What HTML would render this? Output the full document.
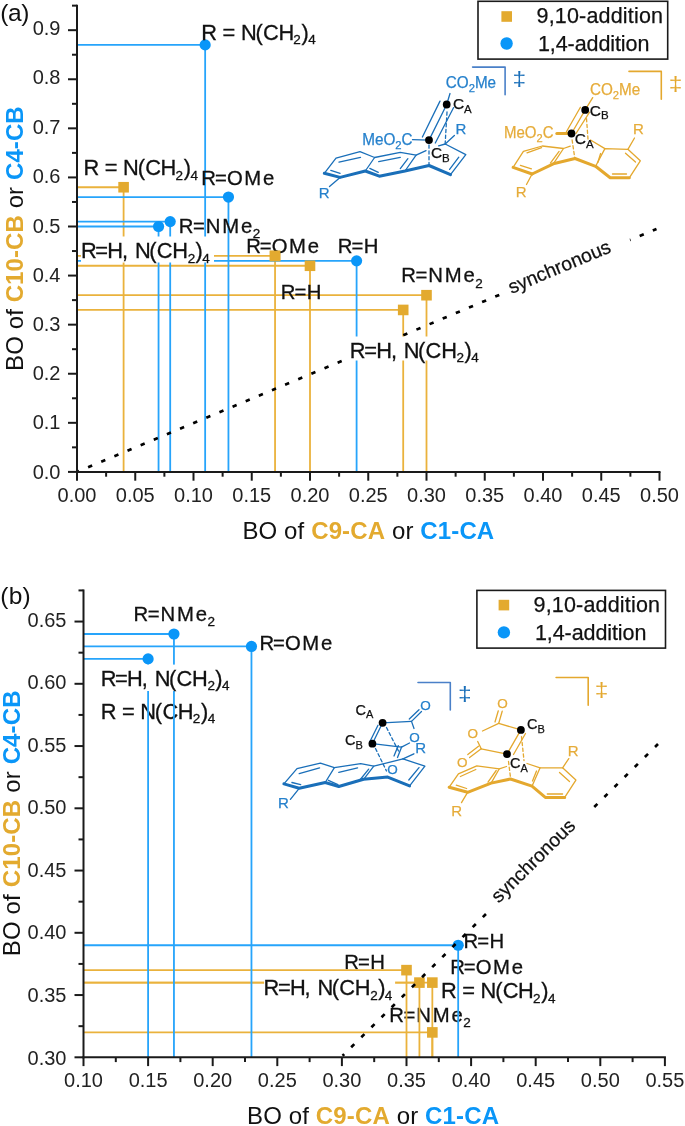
<!DOCTYPE html>
<html><head><meta charset="utf-8"><style>
html,body{margin:0;padding:0;background:#fff;}
svg{display:block;}
text{font-family:"Liberation Sans", Arial, sans-serif;}
</style></head><body>
<svg width="685" height="1126" viewBox="0 0 685 1126">
<rect width="685" height="1126" fill="#fff"/>
<g id="plotA">
<line x1="77.00" y1="187.24" x2="123.60" y2="187.24" stroke="#EAB23C" stroke-width="1.8" />
<line x1="123.60" y1="187.24" x2="123.60" y2="471.90" stroke="#EAB23C" stroke-width="1.8" />
<line x1="77.00" y1="255.95" x2="275.05" y2="255.95" stroke="#EAB23C" stroke-width="1.8" />
<line x1="275.05" y1="255.95" x2="275.05" y2="471.90" stroke="#EAB23C" stroke-width="1.8" />
<line x1="77.00" y1="265.76" x2="310.00" y2="265.76" stroke="#EAB23C" stroke-width="1.8" />
<line x1="310.00" y1="265.76" x2="310.00" y2="471.90" stroke="#EAB23C" stroke-width="1.8" />
<line x1="77.00" y1="295.21" x2="426.50" y2="295.21" stroke="#EAB23C" stroke-width="1.8" />
<line x1="426.50" y1="295.21" x2="426.50" y2="471.90" stroke="#EAB23C" stroke-width="1.8" />
<line x1="77.00" y1="309.94" x2="403.20" y2="309.94" stroke="#EAB23C" stroke-width="1.8" />
<line x1="403.20" y1="309.94" x2="403.20" y2="471.90" stroke="#EAB23C" stroke-width="1.8" />
<line x1="77.00" y1="44.90" x2="205.15" y2="44.90" stroke="#26A4FB" stroke-width="1.8" />
<line x1="205.15" y1="44.90" x2="205.15" y2="471.90" stroke="#26A4FB" stroke-width="1.8" />
<line x1="77.00" y1="197.05" x2="228.45" y2="197.05" stroke="#26A4FB" stroke-width="1.8" />
<line x1="228.45" y1="197.05" x2="228.45" y2="471.90" stroke="#26A4FB" stroke-width="1.8" />
<line x1="77.00" y1="221.59" x2="170.20" y2="221.59" stroke="#26A4FB" stroke-width="1.8" />
<line x1="170.20" y1="221.59" x2="170.20" y2="471.90" stroke="#26A4FB" stroke-width="1.8" />
<line x1="77.00" y1="226.50" x2="158.55" y2="226.50" stroke="#26A4FB" stroke-width="1.8" />
<line x1="158.55" y1="226.50" x2="158.55" y2="471.90" stroke="#26A4FB" stroke-width="1.8" />
<line x1="77.00" y1="260.86" x2="356.60" y2="260.86" stroke="#26A4FB" stroke-width="1.8" />
<line x1="356.60" y1="260.86" x2="356.60" y2="471.90" stroke="#26A4FB" stroke-width="1.8" />
<line x1="77" y1="471.9" x2="656.5" y2="229" stroke="#000" stroke-width="2.7" stroke-dasharray="4.4 9.84" stroke-dashoffset="2.2"/>
<line x1="502" y1="293.5" x2="630" y2="239.8" stroke="#fff" stroke-width="10"/>
<rect x="118.30" y="181.94" width="10.6" height="10.6" fill="#E3AA2F"/>
<rect x="269.75" y="250.65" width="10.6" height="10.6" fill="#E3AA2F"/>
<rect x="304.70" y="260.46" width="10.6" height="10.6" fill="#E3AA2F"/>
<rect x="421.20" y="289.91" width="10.6" height="10.6" fill="#E3AA2F"/>
<rect x="397.90" y="304.64" width="10.6" height="10.6" fill="#E3AA2F"/>
<circle cx="205.15" cy="44.90" r="5.6" fill="#0A96F8"/>
<circle cx="228.45" cy="197.05" r="5.6" fill="#0A96F8"/>
<circle cx="170.20" cy="221.59" r="5.6" fill="#0A96F8"/>
<circle cx="158.55" cy="226.50" r="5.6" fill="#0A96F8"/>
<circle cx="356.60" cy="260.86" r="5.6" fill="#0A96F8"/>
<rect x="81" y="236.5" width="133" height="26.0" fill="#fff"/>
<rect x="350" y="336.5" width="130" height="24.0" fill="#fff"/>
<line x1="77.00" y1="471.90" x2="77.00" y2="480.70" stroke="#1a1a1a" stroke-width="2" />
<line x1="135.25" y1="471.90" x2="135.25" y2="480.70" stroke="#1a1a1a" stroke-width="2" />
<line x1="193.50" y1="471.90" x2="193.50" y2="480.70" stroke="#1a1a1a" stroke-width="2" />
<line x1="251.75" y1="471.90" x2="251.75" y2="480.70" stroke="#1a1a1a" stroke-width="2" />
<line x1="310.00" y1="471.90" x2="310.00" y2="480.70" stroke="#1a1a1a" stroke-width="2" />
<line x1="368.25" y1="471.90" x2="368.25" y2="480.70" stroke="#1a1a1a" stroke-width="2" />
<line x1="426.50" y1="471.90" x2="426.50" y2="480.70" stroke="#1a1a1a" stroke-width="2" />
<line x1="484.75" y1="471.90" x2="484.75" y2="480.70" stroke="#1a1a1a" stroke-width="2" />
<line x1="543.00" y1="471.90" x2="543.00" y2="480.70" stroke="#1a1a1a" stroke-width="2" />
<line x1="601.25" y1="471.90" x2="601.25" y2="480.70" stroke="#1a1a1a" stroke-width="2" />
<line x1="659.50" y1="471.90" x2="659.50" y2="480.70" stroke="#1a1a1a" stroke-width="2" />
<line x1="106.12" y1="471.90" x2="106.12" y2="476.70" stroke="#1a1a1a" stroke-width="2" />
<line x1="164.38" y1="471.90" x2="164.38" y2="476.70" stroke="#1a1a1a" stroke-width="2" />
<line x1="222.62" y1="471.90" x2="222.62" y2="476.70" stroke="#1a1a1a" stroke-width="2" />
<line x1="280.88" y1="471.90" x2="280.88" y2="476.70" stroke="#1a1a1a" stroke-width="2" />
<line x1="339.12" y1="471.90" x2="339.12" y2="476.70" stroke="#1a1a1a" stroke-width="2" />
<line x1="397.38" y1="471.90" x2="397.38" y2="476.70" stroke="#1a1a1a" stroke-width="2" />
<line x1="455.62" y1="471.90" x2="455.62" y2="476.70" stroke="#1a1a1a" stroke-width="2" />
<line x1="513.88" y1="471.90" x2="513.88" y2="476.70" stroke="#1a1a1a" stroke-width="2" />
<line x1="572.12" y1="471.90" x2="572.12" y2="476.70" stroke="#1a1a1a" stroke-width="2" />
<line x1="630.38" y1="471.90" x2="630.38" y2="476.70" stroke="#1a1a1a" stroke-width="2" />
<line x1="68.00" y1="471.90" x2="77.00" y2="471.90" stroke="#1a1a1a" stroke-width="2" />
<line x1="68.00" y1="422.82" x2="77.00" y2="422.82" stroke="#1a1a1a" stroke-width="2" />
<line x1="68.00" y1="373.74" x2="77.00" y2="373.74" stroke="#1a1a1a" stroke-width="2" />
<line x1="68.00" y1="324.66" x2="77.00" y2="324.66" stroke="#1a1a1a" stroke-width="2" />
<line x1="68.00" y1="275.58" x2="77.00" y2="275.58" stroke="#1a1a1a" stroke-width="2" />
<line x1="68.00" y1="226.50" x2="77.00" y2="226.50" stroke="#1a1a1a" stroke-width="2" />
<line x1="68.00" y1="177.42" x2="77.00" y2="177.42" stroke="#1a1a1a" stroke-width="2" />
<line x1="68.00" y1="128.34" x2="77.00" y2="128.34" stroke="#1a1a1a" stroke-width="2" />
<line x1="68.00" y1="79.26" x2="77.00" y2="79.26" stroke="#1a1a1a" stroke-width="2" />
<line x1="68.00" y1="30.18" x2="77.00" y2="30.18" stroke="#1a1a1a" stroke-width="2" />
<line x1="72.00" y1="447.36" x2="77.00" y2="447.36" stroke="#1a1a1a" stroke-width="2" />
<line x1="72.00" y1="398.28" x2="77.00" y2="398.28" stroke="#1a1a1a" stroke-width="2" />
<line x1="72.00" y1="349.20" x2="77.00" y2="349.20" stroke="#1a1a1a" stroke-width="2" />
<line x1="72.00" y1="300.12" x2="77.00" y2="300.12" stroke="#1a1a1a" stroke-width="2" />
<line x1="72.00" y1="251.04" x2="77.00" y2="251.04" stroke="#1a1a1a" stroke-width="2" />
<line x1="72.00" y1="201.96" x2="77.00" y2="201.96" stroke="#1a1a1a" stroke-width="2" />
<line x1="72.00" y1="152.88" x2="77.00" y2="152.88" stroke="#1a1a1a" stroke-width="2" />
<line x1="72.00" y1="103.80" x2="77.00" y2="103.80" stroke="#1a1a1a" stroke-width="2" />
<line x1="72.00" y1="54.72" x2="77.00" y2="54.72" stroke="#1a1a1a" stroke-width="2" />
<line x1="72.00" y1="5.64" x2="77.00" y2="5.64" stroke="#1a1a1a" stroke-width="2" />
<line x1="77.00" y1="472.90" x2="77.00" y2="4.64" stroke="#1a1a1a" stroke-width="2" />
<line x1="76.00" y1="471.90" x2="660.50" y2="471.90" stroke="#1a1a1a" stroke-width="2" />
<text x="77.00" y="501.60" font-size="20" fill="#222" text-anchor="middle">0.00</text>
<text x="135.25" y="501.60" font-size="20" fill="#222" text-anchor="middle">0.05</text>
<text x="193.50" y="501.60" font-size="20" fill="#222" text-anchor="middle">0.10</text>
<text x="251.75" y="501.60" font-size="20" fill="#222" text-anchor="middle">0.15</text>
<text x="310.00" y="501.60" font-size="20" fill="#222" text-anchor="middle">0.20</text>
<text x="368.25" y="501.60" font-size="20" fill="#222" text-anchor="middle">0.25</text>
<text x="426.50" y="501.60" font-size="20" fill="#222" text-anchor="middle">0.30</text>
<text x="484.75" y="501.60" font-size="20" fill="#222" text-anchor="middle">0.35</text>
<text x="543.00" y="501.60" font-size="20" fill="#222" text-anchor="middle">0.40</text>
<text x="601.25" y="501.60" font-size="20" fill="#222" text-anchor="middle">0.45</text>
<text x="659.50" y="501.60" font-size="20" fill="#222" text-anchor="middle">0.50</text>
<text x="60.50" y="478.66" font-size="20" fill="#222" text-anchor="end">0.0</text>
<text x="60.50" y="429.18" font-size="20" fill="#222" text-anchor="end">0.1</text>
<text x="60.50" y="380.00" font-size="20" fill="#222" text-anchor="end">0.2</text>
<text x="60.50" y="331.42" font-size="20" fill="#222" text-anchor="end">0.3</text>
<text x="60.50" y="282.34" font-size="20" fill="#222" text-anchor="end">0.4</text>
<text x="60.50" y="233.26" font-size="20" fill="#222" text-anchor="end">0.5</text>
<text x="60.50" y="183.08" font-size="20" fill="#222" text-anchor="end">0.6</text>
<text x="60.50" y="133.60" font-size="20" fill="#222" text-anchor="end">0.7</text>
<text x="60.50" y="84.42" font-size="20" fill="#222" text-anchor="end">0.8</text>
<text x="60.50" y="35.14" font-size="20" fill="#222" text-anchor="end">0.9</text>
</g>
<text font-size="21.8" fill="#111" stroke="#111" stroke-width="0.3"><tspan x="201.30" y="39.70">R</tspan><tspan x="222.53" y="39.70">=</tspan><tspan x="240.92" y="39.70">N</tspan><tspan x="255.46" y="39.70">(</tspan><tspan x="262.99" y="39.70">C</tspan><tspan x="278.42" y="39.70">H</tspan><tspan x="293.30" y="44.30" font-size="13.5">2</tspan><tspan x="301.48" y="39.70">)</tspan><tspan x="308.29" y="44.30" font-size="13.5">4</tspan></text>
<text font-size="21.8" fill="#111" stroke="#111" stroke-width="0.3"><tspan x="83.50" y="175.00">R</tspan><tspan x="104.73" y="175.00">=</tspan><tspan x="123.12" y="175.00">N</tspan><tspan x="137.66" y="175.00">(</tspan><tspan x="145.19" y="175.00">C</tspan><tspan x="160.62" y="175.00">H</tspan><tspan x="175.50" y="179.60" font-size="13.5">2</tspan><tspan x="183.68" y="175.00">)</tspan><tspan x="190.49" y="179.60" font-size="13.5">4</tspan></text>
<text font-size="20.3" fill="#111" stroke="#111" stroke-width="0.3"><tspan x="201.37" y="185.30">R</tspan><tspan x="214.97" y="185.30">=</tspan><tspan x="226.91" y="185.30">O</tspan><tspan x="244.20" y="185.30">M</tspan><tspan x="262.88" y="185.30">e</tspan></text>
<text font-size="20.3" fill="#111" stroke="#111" stroke-width="0.3"><tspan x="178.82" y="232.80">R</tspan><tspan x="193.07" y="232.80">=</tspan><tspan x="205.76" y="232.80">N</tspan><tspan x="222.20" y="232.80">M</tspan><tspan x="240.93" y="232.80">e</tspan><tspan x="252.80" y="238.10" font-size="13.5">2</tspan></text>
<text font-size="21.8" fill="#111" stroke="#111" stroke-width="0.3"><tspan x="80.95" y="258.20">R</tspan><tspan x="95.33" y="258.20">=</tspan><tspan x="107.37" y="258.20">H</tspan><tspan x="122.07" y="258.20">,</tspan><tspan x="134.92" y="258.20">N</tspan><tspan x="149.26" y="258.20">(</tspan><tspan x="156.64" y="258.20">C</tspan><tspan x="172.32" y="258.20">H</tspan><tspan x="187.75" y="262.80" font-size="13.5">2</tspan><tspan x="195.58" y="258.20">)</tspan><tspan x="202.29" y="262.80" font-size="13.5">4</tspan></text>
<text font-size="20.3" fill="#111" stroke="#111" stroke-width="0.3"><tspan x="246.27" y="252.90">R</tspan><tspan x="259.87" y="252.90">=</tspan><tspan x="271.81" y="252.90">O</tspan><tspan x="289.10" y="252.90">M</tspan><tspan x="307.78" y="252.90">e</tspan></text>
<text font-size="20.3" fill="#111" stroke="#111" stroke-width="0.3"><tspan x="337.77" y="252.90">R</tspan><tspan x="351.62" y="252.90">=</tspan><tspan x="363.71" y="252.90">H</tspan></text>
<text font-size="20.3" fill="#111" stroke="#111" stroke-width="0.3"><tspan x="280.77" y="298.90">R</tspan><tspan x="294.62" y="298.90">=</tspan><tspan x="306.71" y="298.90">H</tspan></text>
<text font-size="20.3" fill="#111" stroke="#111" stroke-width="0.3"><tspan x="401.27" y="282.30">R</tspan><tspan x="415.52" y="282.30">=</tspan><tspan x="428.21" y="282.30">N</tspan><tspan x="444.65" y="282.30">M</tspan><tspan x="463.38" y="282.30">e</tspan><tspan x="475.25" y="287.60" font-size="13.5">2</tspan></text>
<text font-size="21.8" fill="#111" stroke="#111" stroke-width="0.3"><tspan x="349.80" y="357.60">R</tspan><tspan x="364.18" y="357.60">=</tspan><tspan x="376.22" y="357.60">H</tspan><tspan x="390.92" y="357.60">,</tspan><tspan x="403.77" y="357.60">N</tspan><tspan x="418.11" y="357.60">(</tspan><tspan x="425.49" y="357.60">C</tspan><tspan x="441.17" y="357.60">H</tspan><tspan x="456.60" y="362.20" font-size="13.5">2</tspan><tspan x="464.43" y="357.60">)</tspan><tspan x="471.14" y="362.20" font-size="13.5">4</tspan></text>
<rect x="269.75" y="250.65" width="10.6" height="10.6" fill="#E3AA2F"/>
<text font-size="20.3" fill="#111" stroke="#111" stroke-width="0.3"><tspan x="133.52" y="621.00">R</tspan><tspan x="147.77" y="621.00">=</tspan><tspan x="160.46" y="621.00">N</tspan><tspan x="176.90" y="621.00">M</tspan><tspan x="195.63" y="621.00">e</tspan><tspan x="207.50" y="626.30" font-size="13.5">2</tspan></text>
<text font-size="20.3" fill="#111" stroke="#111" stroke-width="0.3"><tspan x="259.47" y="650.00">R</tspan><tspan x="273.07" y="650.00">=</tspan><tspan x="285.01" y="650.00">O</tspan><tspan x="302.30" y="650.00">M</tspan><tspan x="320.98" y="650.00">e</tspan></text>
<text font-size="21.8" fill="#111" stroke="#111" stroke-width="0.3"><tspan x="100.70" y="718.60">R</tspan><tspan x="121.93" y="718.60">=</tspan><tspan x="140.32" y="718.60">N</tspan><tspan x="154.86" y="718.60">(</tspan><tspan x="162.39" y="718.60">C</tspan><tspan x="177.82" y="718.60">H</tspan><tspan x="192.70" y="723.20" font-size="13.5">2</tspan><tspan x="200.88" y="718.60">)</tspan><tspan x="207.69" y="723.20" font-size="13.5">4</tspan></text>
<text font-size="20.3" fill="#111" stroke="#111" stroke-width="0.3"><tspan x="344.27" y="968.70">R</tspan><tspan x="358.12" y="968.70">=</tspan><tspan x="370.21" y="968.70">H</tspan></text>
<text font-size="20.3" fill="#111" stroke="#111" stroke-width="0.3"><tspan x="463.52" y="947.50">R</tspan><tspan x="477.37" y="947.50">=</tspan><tspan x="489.46" y="947.50">H</tspan></text>
<text font-size="20.3" fill="#111" stroke="#111" stroke-width="0.3"><tspan x="450.27" y="974.20">R</tspan><tspan x="463.87" y="974.20">=</tspan><tspan x="475.81" y="974.20">O</tspan><tspan x="493.10" y="974.20">M</tspan><tspan x="511.78" y="974.20">e</tspan></text>
<text font-size="21.8" fill="#111" stroke="#111" stroke-width="0.3"><tspan x="441.00" y="998.00">R</tspan><tspan x="462.23" y="998.00">=</tspan><tspan x="480.62" y="998.00">N</tspan><tspan x="495.16" y="998.00">(</tspan><tspan x="502.69" y="998.00">C</tspan><tspan x="518.12" y="998.00">H</tspan><tspan x="533.00" y="1002.60" font-size="13.5">2</tspan><tspan x="541.18" y="998.00">)</tspan><tspan x="547.99" y="1002.60" font-size="13.5">4</tspan></text>
<text font-size="20.3" fill="#111" stroke="#111" stroke-width="0.3"><tspan x="389.27" y="1021.50">R</tspan><tspan x="403.52" y="1021.50">=</tspan><tspan x="416.21" y="1021.50">N</tspan><tspan x="432.65" y="1021.50">M</tspan><tspan x="451.38" y="1021.50">e</tspan><tspan x="463.25" y="1026.80" font-size="13.5">2</tspan></text>
<g id="plotB">
<line x1="83.50" y1="970.15" x2="406.50" y2="970.15" stroke="#EAB23C" stroke-width="1.8" />
<line x1="406.50" y1="970.15" x2="406.50" y2="1057.30" stroke="#EAB23C" stroke-width="1.8" />
<line x1="83.50" y1="982.60" x2="419.42" y2="982.60" stroke="#EAB23C" stroke-width="1.8" />
<line x1="419.42" y1="982.60" x2="419.42" y2="1057.30" stroke="#EAB23C" stroke-width="1.8" />
<line x1="83.50" y1="982.60" x2="432.34" y2="982.60" stroke="#EAB23C" stroke-width="1.8" />
<line x1="432.34" y1="982.60" x2="432.34" y2="1057.30" stroke="#EAB23C" stroke-width="1.8" />
<line x1="83.50" y1="1032.40" x2="432.34" y2="1032.40" stroke="#EAB23C" stroke-width="1.8" />
<line x1="432.34" y1="1032.40" x2="432.34" y2="1057.30" stroke="#EAB23C" stroke-width="1.8" />
<line x1="83.50" y1="634.00" x2="173.94" y2="634.00" stroke="#26A4FB" stroke-width="1.8" />
<line x1="173.94" y1="634.00" x2="173.94" y2="1057.30" stroke="#26A4FB" stroke-width="1.8" />
<line x1="83.50" y1="646.45" x2="251.46" y2="646.45" stroke="#26A4FB" stroke-width="1.8" />
<line x1="251.46" y1="646.45" x2="251.46" y2="1057.30" stroke="#26A4FB" stroke-width="1.8" />
<line x1="83.50" y1="658.90" x2="148.10" y2="658.90" stroke="#26A4FB" stroke-width="1.8" />
<line x1="148.10" y1="658.90" x2="148.10" y2="1057.30" stroke="#26A4FB" stroke-width="1.8" />
<line x1="83.50" y1="945.25" x2="458.18" y2="945.25" stroke="#26A4FB" stroke-width="1.8" />
<line x1="458.18" y1="945.25" x2="458.18" y2="1057.30" stroke="#26A4FB" stroke-width="1.8" />
<rect x="401.20" y="964.85" width="10.6" height="10.6" fill="#E3AA2F"/>
<rect x="414.12" y="977.30" width="10.6" height="10.6" fill="#E3AA2F"/>
<rect x="427.04" y="977.30" width="10.6" height="10.6" fill="#E3AA2F"/>
<rect x="427.04" y="1027.10" width="10.6" height="10.6" fill="#E3AA2F"/>
<circle cx="173.94" cy="634.00" r="5.6" fill="#0A96F8"/>
<circle cx="251.46" cy="646.45" r="5.6" fill="#0A96F8"/>
<circle cx="148.10" cy="658.90" r="5.6" fill="#0A96F8"/>
<circle cx="458.18" cy="945.25" r="5.6" fill="#0A96F8"/>
<line x1="342.6" y1="1055.7" x2="658" y2="744" stroke="#000" stroke-width="2.7" stroke-dasharray="4.4 9.84" stroke-dashoffset="2.2"/>
<line x1="489" y1="910" x2="591" y2="809" stroke="#fff" stroke-width="10"/>
<rect x="100" y="664.6" width="132" height="26.399999999999977" fill="#fff"/>
<rect x="264.1" y="976" width="131.0" height="22.5" fill="#fff"/>
<line x1="83.50" y1="1057.30" x2="83.50" y2="1066.10" stroke="#1a1a1a" stroke-width="2" />
<line x1="148.10" y1="1057.30" x2="148.10" y2="1066.10" stroke="#1a1a1a" stroke-width="2" />
<line x1="212.70" y1="1057.30" x2="212.70" y2="1066.10" stroke="#1a1a1a" stroke-width="2" />
<line x1="277.30" y1="1057.30" x2="277.30" y2="1066.10" stroke="#1a1a1a" stroke-width="2" />
<line x1="341.90" y1="1057.30" x2="341.90" y2="1066.10" stroke="#1a1a1a" stroke-width="2" />
<line x1="406.50" y1="1057.30" x2="406.50" y2="1066.10" stroke="#1a1a1a" stroke-width="2" />
<line x1="471.10" y1="1057.30" x2="471.10" y2="1066.10" stroke="#1a1a1a" stroke-width="2" />
<line x1="535.70" y1="1057.30" x2="535.70" y2="1066.10" stroke="#1a1a1a" stroke-width="2" />
<line x1="600.30" y1="1057.30" x2="600.30" y2="1066.10" stroke="#1a1a1a" stroke-width="2" />
<line x1="664.90" y1="1057.30" x2="664.90" y2="1066.10" stroke="#1a1a1a" stroke-width="2" />
<line x1="115.80" y1="1057.30" x2="115.80" y2="1062.10" stroke="#1a1a1a" stroke-width="2" />
<line x1="180.40" y1="1057.30" x2="180.40" y2="1062.10" stroke="#1a1a1a" stroke-width="2" />
<line x1="245.00" y1="1057.30" x2="245.00" y2="1062.10" stroke="#1a1a1a" stroke-width="2" />
<line x1="309.60" y1="1057.30" x2="309.60" y2="1062.10" stroke="#1a1a1a" stroke-width="2" />
<line x1="374.20" y1="1057.30" x2="374.20" y2="1062.10" stroke="#1a1a1a" stroke-width="2" />
<line x1="438.80" y1="1057.30" x2="438.80" y2="1062.10" stroke="#1a1a1a" stroke-width="2" />
<line x1="503.40" y1="1057.30" x2="503.40" y2="1062.10" stroke="#1a1a1a" stroke-width="2" />
<line x1="568.00" y1="1057.30" x2="568.00" y2="1062.10" stroke="#1a1a1a" stroke-width="2" />
<line x1="632.60" y1="1057.30" x2="632.60" y2="1062.10" stroke="#1a1a1a" stroke-width="2" />
<line x1="74.50" y1="1057.30" x2="83.50" y2="1057.30" stroke="#1a1a1a" stroke-width="2" />
<line x1="74.50" y1="995.05" x2="83.50" y2="995.05" stroke="#1a1a1a" stroke-width="2" />
<line x1="74.50" y1="932.80" x2="83.50" y2="932.80" stroke="#1a1a1a" stroke-width="2" />
<line x1="74.50" y1="870.55" x2="83.50" y2="870.55" stroke="#1a1a1a" stroke-width="2" />
<line x1="74.50" y1="808.30" x2="83.50" y2="808.30" stroke="#1a1a1a" stroke-width="2" />
<line x1="74.50" y1="746.05" x2="83.50" y2="746.05" stroke="#1a1a1a" stroke-width="2" />
<line x1="74.50" y1="683.80" x2="83.50" y2="683.80" stroke="#1a1a1a" stroke-width="2" />
<line x1="74.50" y1="621.55" x2="83.50" y2="621.55" stroke="#1a1a1a" stroke-width="2" />
<line x1="78.50" y1="1026.17" x2="83.50" y2="1026.17" stroke="#1a1a1a" stroke-width="2" />
<line x1="78.50" y1="963.92" x2="83.50" y2="963.92" stroke="#1a1a1a" stroke-width="2" />
<line x1="78.50" y1="901.67" x2="83.50" y2="901.67" stroke="#1a1a1a" stroke-width="2" />
<line x1="78.50" y1="839.42" x2="83.50" y2="839.42" stroke="#1a1a1a" stroke-width="2" />
<line x1="78.50" y1="777.17" x2="83.50" y2="777.17" stroke="#1a1a1a" stroke-width="2" />
<line x1="78.50" y1="714.92" x2="83.50" y2="714.92" stroke="#1a1a1a" stroke-width="2" />
<line x1="78.50" y1="652.67" x2="83.50" y2="652.67" stroke="#1a1a1a" stroke-width="2" />
<line x1="78.50" y1="590.42" x2="83.50" y2="590.42" stroke="#1a1a1a" stroke-width="2" />
<line x1="83.50" y1="1058.30" x2="83.50" y2="589.42" stroke="#1a1a1a" stroke-width="2" />
<line x1="82.50" y1="1057.30" x2="665.90" y2="1057.30" stroke="#1a1a1a" stroke-width="2" />
<text x="83.50" y="1087.20" font-size="20" fill="#222" text-anchor="middle">0.10</text>
<text x="148.10" y="1087.20" font-size="20" fill="#222" text-anchor="middle">0.15</text>
<text x="212.70" y="1087.20" font-size="20" fill="#222" text-anchor="middle">0.20</text>
<text x="277.30" y="1087.20" font-size="20" fill="#222" text-anchor="middle">0.25</text>
<text x="341.90" y="1087.20" font-size="20" fill="#222" text-anchor="middle">0.30</text>
<text x="406.50" y="1087.20" font-size="20" fill="#222" text-anchor="middle">0.35</text>
<text x="471.10" y="1087.20" font-size="20" fill="#222" text-anchor="middle">0.40</text>
<text x="535.70" y="1087.20" font-size="20" fill="#222" text-anchor="middle">0.45</text>
<text x="600.30" y="1087.20" font-size="20" fill="#222" text-anchor="middle">0.50</text>
<text x="664.90" y="1087.20" font-size="20" fill="#222" text-anchor="middle">0.55</text>
<text x="66.50" y="1064.76" font-size="20" fill="#222" text-anchor="end">0.30</text>
<text x="66.50" y="1001.51" font-size="20" fill="#222" text-anchor="end">0.35</text>
<text x="66.50" y="938.86" font-size="20" fill="#222" text-anchor="end">0.40</text>
<text x="66.50" y="876.61" font-size="20" fill="#222" text-anchor="end">0.45</text>
<text x="66.50" y="814.36" font-size="20" fill="#222" text-anchor="end">0.50</text>
<text x="66.50" y="751.71" font-size="20" fill="#222" text-anchor="end">0.55</text>
<text x="66.50" y="689.46" font-size="20" fill="#222" text-anchor="end">0.60</text>
<text x="66.50" y="627.41" font-size="20" fill="#222" text-anchor="end">0.65</text>
</g>
<text font-size="21.8" fill="#111" stroke="#111" stroke-width="0.3"><tspan x="100.70" y="685.60">R</tspan><tspan x="115.08" y="685.60">=</tspan><tspan x="127.12" y="685.60">H</tspan><tspan x="141.82" y="685.60">,</tspan><tspan x="154.67" y="685.60">N</tspan><tspan x="169.01" y="685.60">(</tspan><tspan x="176.39" y="685.60">C</tspan><tspan x="192.07" y="685.60">H</tspan><tspan x="207.50" y="690.20" font-size="13.5">2</tspan><tspan x="215.33" y="685.60">)</tspan><tspan x="222.04" y="690.20" font-size="13.5">4</tspan></text>
<text font-size="21.8" fill="#111" stroke="#111" stroke-width="0.3"><tspan x="263.50" y="995.30">R</tspan><tspan x="277.88" y="995.30">=</tspan><tspan x="289.92" y="995.30">H</tspan><tspan x="304.62" y="995.30">,</tspan><tspan x="317.47" y="995.30">N</tspan><tspan x="331.81" y="995.30">(</tspan><tspan x="339.19" y="995.30">C</tspan><tspan x="354.87" y="995.30">H</tspan><tspan x="370.30" y="999.90" font-size="13.5">2</tspan><tspan x="378.13" y="995.30">)</tspan><tspan x="384.84" y="999.90" font-size="13.5">4</tspan></text>
<text x="0.3" y="21.4" font-size="24.5" fill="#111" textLength="29.2" lengthAdjust="spacing">(a)</text>
<text x="0.3" y="603.8" font-size="24.5" fill="#111" textLength="30.4" lengthAdjust="spacing">(b)</text>
<text x="242.4" y="539.1" font-size="24" fill="#111" textLength="251.8" lengthAdjust="spacing">BO of <tspan font-weight="bold" fill="#E3AA2F">C9-CA</tspan> or <tspan font-weight="bold" fill="#0A96F8">C1-CA</tspan></text>
<text x="247.0" y="1124.2" font-size="24" fill="#111" textLength="252.0" lengthAdjust="spacing">BO of <tspan font-weight="bold" fill="#E3AA2F">C9-CA</tspan> or <tspan font-weight="bold" fill="#0A96F8">C1-CA</tspan></text>
<text transform="translate(22.8,370.9) rotate(-90)" x="0" y="0" font-size="24" fill="#111" textLength="264.6" lengthAdjust="spacing">BO of <tspan font-weight="bold" fill="#E3AA2F">C10-CB</tspan> or <tspan font-weight="bold" fill="#0A96F8">C4-CB</tspan></text>
<text transform="translate(20.0,956.2) rotate(-90)" x="0" y="0" font-size="24" fill="#111" textLength="265.8" lengthAdjust="spacing">BO of <tspan font-weight="bold" fill="#E3AA2F">C10-CB</tspan> or <tspan font-weight="bold" fill="#0A96F8">C4-CB</tspan></text>
<g transform="translate(561.8,272.8) rotate(-22.74)"><text x="0" y="0" font-size="19.3" fill="#111" text-anchor="middle" stroke="#111" stroke-width="0.25">synchronous</text></g>
<g transform="translate(537.7,865.4) rotate(-44.67)"><text x="0" y="0" font-size="19.3" fill="#111" text-anchor="middle" stroke="#111" stroke-width="0.25">synchronous</text></g>
<rect x="478" y="1.3" width="189.70000000000005" height="57.800000000000004" fill="#fff" stroke="#1a1a1a" stroke-width="1.6"/>
<rect x="501.40" y="11.20" width="10.6" height="10.6" fill="#E3AA2F"/>
<circle cx="506.60" cy="43.50" r="6.2" fill="#0A96F8"/>
<text x="536.5" y="22.7" font-size="21.5" fill="#111" textLength="126.5" lengthAdjust="spacing" stroke="#111" stroke-width="0.25">9,10-addition</text>
<text x="537.9" y="50.8" font-size="21.5" fill="#111" textLength="111.5" lengthAdjust="spacing" stroke="#111" stroke-width="0.25">1,4-addition</text>
<rect x="476.9" y="590.4" width="188.60000000000002" height="57.700000000000045" fill="#fff" stroke="#1a1a1a" stroke-width="1.6"/>
<rect x="498.60" y="599.80" width="10.6" height="10.6" fill="#E3AA2F"/>
<circle cx="503.90" cy="632.40" r="6.2" fill="#0A96F8"/>
<text x="533.5" y="611.7" font-size="21.5" fill="#111" textLength="126.5" lengthAdjust="spacing" stroke="#111" stroke-width="0.25">9,10-addition</text>
<text x="534.9" y="639.5" font-size="21.5" fill="#111" textLength="111.5" lengthAdjust="spacing" stroke="#111" stroke-width="0.25">1,4-addition</text>
<g id="structs">
<polyline points="324.3,173.3 336.0,158.1 360.0,151.7 374.6,157.5 365.3,171.0" fill="none" stroke="#1a6fb9" stroke-width="1.3" stroke-linejoin="round" stroke-linecap="round" />
<polyline points="374.6,157.5 400.3,152.3 416.1,155.2 405.0,171.0" fill="none" stroke="#1a6fb9" stroke-width="1.3" stroke-linejoin="round" stroke-linecap="round" />
<polyline points="324.3,173.3 340.1,177.4 365.3,171.0 379.3,176.2 405.0,171.0 429.0,165.5 450.5,174.7" fill="none" stroke="#1a6fb9" stroke-width="3.0" stroke-linejoin="round" stroke-linecap="round" />
<polyline points="450.5,174.7 465.8,154.6 445.2,144.0" fill="none" stroke="#1a6fb9" stroke-width="1.3" stroke-linejoin="round" stroke-linecap="round" />
<polyline points="416.1,155.2 426.0,150.6" fill="none" stroke="#1a6fb9" stroke-width="1.3" stroke-linejoin="round" stroke-linecap="round" />
<polyline points="438.6,145.8 445.2,144.0" fill="none" stroke="#1a6fb9" stroke-width="1.3" stroke-linejoin="round" stroke-linecap="round" />
<polyline points="339.0,162.2 360.5,157.3" fill="none" stroke="#1a6fb9" stroke-width="1.3" stroke-linejoin="round" stroke-linecap="round" />
<polyline points="330.8,170.4 340.1,173.3" fill="none" stroke="#1a6fb9" stroke-width="1.3" stroke-linejoin="round" stroke-linecap="round" />
<polyline points="378.7,161.6 400.3,157.3" fill="none" stroke="#1a6fb9" stroke-width="1.3" stroke-linejoin="round" stroke-linecap="round" />
<polyline points="400.3,168.6 407.9,158.7" fill="none" stroke="#1a6fb9" stroke-width="1.3" stroke-linejoin="round" stroke-linecap="round" />
<polyline points="369.8,168.4 378.3,172.3" fill="none" stroke="#1a6fb9" stroke-width="1.3" stroke-linejoin="round" stroke-linecap="round" />
<polyline points="458.8,157.2 449.6,169.4" fill="none" stroke="#1a6fb9" stroke-width="1.3" stroke-linejoin="round" stroke-linecap="round" />
<polyline points="445.2,144.0 454.4,135.5" fill="none" stroke="#1a6fb9" stroke-width="1.3" stroke-linejoin="round" stroke-linecap="round" />
<polyline points="340.1,177.4 329.5,186.5" fill="none" stroke="#1a6fb9" stroke-width="1.3" stroke-linejoin="round" stroke-linecap="round" />
<polyline points="440.0,101.1 422.4,137.0" fill="none" stroke="#1a6fb9" stroke-width="1.3" stroke-linejoin="round" stroke-linecap="round" />
<polyline points="446.7,104.5 429.0,140.1" fill="none" stroke="#1a6fb9" stroke-width="1.3" stroke-linejoin="round" stroke-linecap="round" />
<polyline points="453.5,107.7 435.3,143.0" fill="none" stroke="#1a6fb9" stroke-width="1.3" stroke-linejoin="round" stroke-linecap="round" />
<polyline points="447.0,112.0 445.2,143.0" fill="none" stroke="#1a6fb9" stroke-width="1.3" stroke-linejoin="round" stroke-linecap="round" stroke-dasharray="3.2 2.6" stroke-linecap="butt"/>
<polyline points="429.0,145.0 429.0,164.0" fill="none" stroke="#1a6fb9" stroke-width="1.3" stroke-linejoin="round" stroke-linecap="round" stroke-dasharray="3.2 2.6" stroke-linecap="butt"/>
<polyline points="412.5,139.7 429.0,140.1" fill="none" stroke="#1a6fb9" stroke-width="1.3" stroke-linejoin="round" stroke-linecap="round" />
<polyline points="450.0,93.5 446.7,104.5" fill="none" stroke="#1a6fb9" stroke-width="1.3" stroke-linejoin="round" stroke-linecap="round" />
<circle cx="446.7" cy="104.5" r="3.9" fill="#000"/>
<circle cx="429.0" cy="140.1" r="3.9" fill="#000"/>
<text x="362.2" y="144.7" font-size="16" fill="#2580cc" stroke="#2580cc" stroke-width="0.25" textLength="50.4" lengthAdjust="spacingAndGlyphs"><tspan>MeO</tspan><tspan font-size="11.8" dy="3.9">2</tspan><tspan dy="-3.9">&#8203;</tspan><tspan>C</tspan></text>
<text x="445.8" y="87.9" font-size="16" fill="#2580cc" stroke="#2580cc" stroke-width="0.25" textLength="50.3" lengthAdjust="spacingAndGlyphs"><tspan>CO</tspan><tspan font-size="11.8" dy="3.9">2</tspan><tspan dy="-3.9">&#8203;</tspan><tspan>Me</tspan></text>
<text x="455.5" y="133.5" font-size="15" fill="#2580cc" stroke="#2580cc" stroke-width="0.25" >R</text>
<text x="318.7" y="197.8" font-size="15" fill="#2580cc" stroke="#2580cc" stroke-width="0.25" >R</text>
<text x="452.9" y="108.7" font-size="15.5" fill="#111" stroke="#111" stroke-width="0.25"><tspan>C</tspan><tspan font-size="11.5" dy="3.8">A</tspan><tspan dy="-3.8">&#8203;</tspan></text>
<text x="430.9" y="157.8" font-size="15.5" fill="#111" stroke="#111" stroke-width="0.25"><tspan>C</tspan><tspan font-size="11.5" dy="3.8">B</tspan><tspan dy="-3.8">&#8203;</tspan></text>
<polyline points="472.6,67.1 505.1,67.1 505.1,94.8" fill="none" stroke="#4a80c8" stroke-width="1.6" stroke-linejoin="round" stroke-linecap="round" stroke-linecap="butt" stroke-linejoin="miter"/>
<text transform="translate(519.30 86.37) scale(1.22 1)" x="-5.58" y="0" font-size="20.1" fill="#1a6fb9">&#8225;</text>
<polyline points="532.1,174.0 513.1,167.4 523.4,151.4 542.3,146.0 563.5,148.5 553.3,163.8" fill="none" stroke="#E4A82E" stroke-width="1.3" stroke-linejoin="round" stroke-linecap="round" />
<polyline points="532.1,174.0 553.3,163.8 575.0,158.5 595.6,166.3 610.2,177.8 629.3,177.8" fill="none" stroke="#E4A82E" stroke-width="3.0" stroke-linejoin="round" stroke-linecap="round" />
<polyline points="532.1,174.0 513.1,167.4" fill="none" stroke="#E4A82E" stroke-width="3.0" stroke-linejoin="round" stroke-linecap="round" />
<polyline points="629.3,177.8 640.3,160.8 627.9,149.3 604.9,148.6 595.6,166.3" fill="none" stroke="#E4A82E" stroke-width="1.3" stroke-linejoin="round" stroke-linecap="round" />
<polyline points="563.5,148.5 570.3,146.2" fill="none" stroke="#E4A82E" stroke-width="1.3" stroke-linejoin="round" stroke-linecap="round" />
<polyline points="590.5,140.0 604.9,148.6" fill="none" stroke="#E4A82E" stroke-width="1.3" stroke-linejoin="round" stroke-linecap="round" />
<polyline points="527.0,152.8 541.6,147.7" fill="none" stroke="#E4A82E" stroke-width="1.3" stroke-linejoin="round" stroke-linecap="round" />
<polyline points="550.4,163.1 559.1,151.4" fill="none" stroke="#E4A82E" stroke-width="1.3" stroke-linejoin="round" stroke-linecap="round" />
<polyline points="520.4,165.3 531.4,168.9" fill="none" stroke="#E4A82E" stroke-width="1.3" stroke-linejoin="round" stroke-linecap="round" />
<polyline points="625.5,153.2 635.5,162.0" fill="none" stroke="#E4A82E" stroke-width="1.3" stroke-linejoin="round" stroke-linecap="round" />
<polyline points="612.5,174.0 626.5,174.0" fill="none" stroke="#E4A82E" stroke-width="1.3" stroke-linejoin="round" stroke-linecap="round" />
<polyline points="600.6,153.5 597.8,162.5" fill="none" stroke="#E4A82E" stroke-width="1.3" stroke-linejoin="round" stroke-linecap="round" />
<polyline points="627.9,149.3 634.5,138.0" fill="none" stroke="#E4A82E" stroke-width="1.3" stroke-linejoin="round" stroke-linecap="round" />
<polyline points="532.1,174.0 526.5,184.5" fill="none" stroke="#E4A82E" stroke-width="1.3" stroke-linejoin="round" stroke-linecap="round" />
<polyline points="566.4,131.8 580.4,107.3" fill="none" stroke="#E4A82E" stroke-width="1.3" stroke-linejoin="round" stroke-linecap="round" />
<polyline points="571.5,133.5 585.2,109.9" fill="none" stroke="#E4A82E" stroke-width="1.3" stroke-linejoin="round" stroke-linecap="round" />
<polyline points="576.0,133.5 589.6,112.1" fill="none" stroke="#E4A82E" stroke-width="1.3" stroke-linejoin="round" stroke-linecap="round" />
<polyline points="586.5,118.6 588.0,139.0" fill="none" stroke="#E4A82E" stroke-width="1.3" stroke-linejoin="round" stroke-linecap="round" stroke-dasharray="3.2 2.6" stroke-linecap="butt"/>
<polyline points="572.1,140.0 574.7,157.5" fill="none" stroke="#E4A82E" stroke-width="1.3" stroke-linejoin="round" stroke-linecap="round" stroke-dasharray="3.2 2.6" stroke-linecap="butt"/>
<polyline points="556.8,133.5 571.5,133.5" fill="none" stroke="#E4A82E" stroke-width="3.0" stroke-linejoin="round" stroke-linecap="round" />
<polyline points="585.2,109.9 592.7,97.6" fill="none" stroke="#E4A82E" stroke-width="1.3" stroke-linejoin="round" stroke-linecap="round" />
<circle cx="571.5" cy="133.5" r="3.9" fill="#000"/>
<circle cx="585.2" cy="109.9" r="3.9" fill="#000"/>
<text x="504" y="138.2" font-size="16" fill="#E6AC3A" stroke="#E6AC3A" stroke-width="0.25" textLength="49.5" lengthAdjust="spacingAndGlyphs"><tspan>MeO</tspan><tspan font-size="11.8" dy="3.9">2</tspan><tspan dy="-3.9">&#8203;</tspan><tspan>C</tspan></text>
<text x="590" y="95.1" font-size="16" fill="#E6AC3A" stroke="#E6AC3A" stroke-width="0.25" textLength="50.3" lengthAdjust="spacingAndGlyphs"><tspan>CO</tspan><tspan font-size="11.8" dy="3.9">2</tspan><tspan dy="-3.9">&#8203;</tspan><tspan>Me</tspan></text>
<text x="632.9" y="134.3" font-size="15" fill="#E6AC3A" stroke="#E6AC3A" stroke-width="0.25" >R</text>
<text x="515.8" y="196.6" font-size="15" fill="#E6AC3A" stroke="#E6AC3A" stroke-width="0.25" >R</text>
<text x="574.8" y="144.3" font-size="15.5" fill="#111" stroke="#111" stroke-width="0.25"><tspan>C</tspan><tspan font-size="11.5" dy="3.8">A</tspan><tspan dy="-3.8">&#8203;</tspan></text>
<text x="589.7" y="115.5" font-size="15.5" fill="#111" stroke="#111" stroke-width="0.25"><tspan>C</tspan><tspan font-size="11.5" dy="3.8">B</tspan><tspan dy="-3.8">&#8203;</tspan></text>
<polyline points="629.0,71.4 661.3,71.4 661.3,99.3" fill="none" stroke="#E4A82E" stroke-width="1.6" stroke-linejoin="round" stroke-linecap="round" stroke-linecap="butt" stroke-linejoin="miter"/>
<text transform="translate(675.60 90.57) scale(1.22 1)" x="-5.58" y="0" font-size="20.1" fill="#E4A82E">&#8225;</text>
<polyline points="283.9,783.9 297.0,768.6 320.4,763.1 334.4,767.6 325.2,782.5" fill="none" stroke="#1a6fb9" stroke-width="1.3" stroke-linejoin="round" stroke-linecap="round" />
<polyline points="334.4,767.6 360.7,763.7 373.8,766.2 363.6,779.3" fill="none" stroke="#1a6fb9" stroke-width="1.3" stroke-linejoin="round" stroke-linecap="round" />
<polyline points="283.9,783.9 299.2,788.3 325.2,782.5 338.8,786.5 363.6,779.3 387.7,777.1 409.6,785.9" fill="none" stroke="#1a6fb9" stroke-width="3.0" stroke-linejoin="round" stroke-linecap="round" />
<polyline points="409.6,785.9 424.9,766.2 403.0,758.9" fill="none" stroke="#1a6fb9" stroke-width="1.3" stroke-linejoin="round" stroke-linecap="round" />
<polyline points="373.8,766.2 403.0,758.9" fill="none" stroke="#1a6fb9" stroke-width="1.3" stroke-linejoin="round" stroke-linecap="round" />
<polyline points="299.2,773.7 319.6,767.9" fill="none" stroke="#1a6fb9" stroke-width="1.3" stroke-linejoin="round" stroke-linecap="round" />
<polyline points="291.9,782.5 300.7,784.7" fill="none" stroke="#1a6fb9" stroke-width="1.3" stroke-linejoin="round" stroke-linecap="round" />
<polyline points="338.8,772.3 357.6,767.9" fill="none" stroke="#1a6fb9" stroke-width="1.3" stroke-linejoin="round" stroke-linecap="round" />
<polyline points="328.4,780.3 337.9,784.7" fill="none" stroke="#1a6fb9" stroke-width="1.3" stroke-linejoin="round" stroke-linecap="round" />
<polyline points="359.9,780.0 368.7,769.1" fill="none" stroke="#1a6fb9" stroke-width="1.3" stroke-linejoin="round" stroke-linecap="round" />
<polyline points="408.8,780.0 419.0,767.6" fill="none" stroke="#1a6fb9" stroke-width="1.3" stroke-linejoin="round" stroke-linecap="round" />
<polyline points="403.0,758.9 413.9,753.8" fill="none" stroke="#1a6fb9" stroke-width="1.3" stroke-linejoin="round" stroke-linecap="round" />
<polyline points="299.2,788.3 290.4,799.3" fill="none" stroke="#1a6fb9" stroke-width="1.3" stroke-linejoin="round" stroke-linecap="round" />
<polyline points="382.6,722.8 372.4,743.7" fill="none" stroke="#1a6fb9" stroke-width="1.3" stroke-linejoin="round" stroke-linecap="round" />
<polyline points="378.0,725.3 369.6,742.2" fill="none" stroke="#1a6fb9" stroke-width="1.3" stroke-linejoin="round" stroke-linecap="round" />
<polyline points="382.6,722.8 411.5,721.4" fill="none" stroke="#1a6fb9" stroke-width="1.3" stroke-linejoin="round" stroke-linecap="round" />
<polyline points="411.5,721.4 421.5,711.5" fill="none" stroke="#1a6fb9" stroke-width="1.3" stroke-linejoin="round" stroke-linecap="round" />
<polyline points="409.3,719.0 419.0,709.8" fill="none" stroke="#1a6fb9" stroke-width="1.3" stroke-linejoin="round" stroke-linecap="round" />
<polyline points="411.5,721.4 414.0,728.5" fill="none" stroke="#1a6fb9" stroke-width="1.3" stroke-linejoin="round" stroke-linecap="round" />
<polyline points="409.5,743.0 401.5,747.2" fill="none" stroke="#1a6fb9" stroke-width="1.3" stroke-linejoin="round" stroke-linecap="round" />
<polyline points="372.4,743.7 401.5,747.2" fill="none" stroke="#1a6fb9" stroke-width="1.3" stroke-linejoin="round" stroke-linecap="round" />
<polyline points="401.5,747.2 397.5,757.5" fill="none" stroke="#1a6fb9" stroke-width="1.3" stroke-linejoin="round" stroke-linecap="round" />
<polyline points="398.3,745.6 394.0,756.0" fill="none" stroke="#1a6fb9" stroke-width="1.3" stroke-linejoin="round" stroke-linecap="round" />
<polyline points="386.5,727.5 399.0,752.0" fill="none" stroke="#1a6fb9" stroke-width="1.3" stroke-linejoin="round" stroke-linecap="round" stroke-dasharray="3.2 2.6" stroke-linecap="butt"/>
<polyline points="375.5,748.5 386.5,771.0" fill="none" stroke="#1a6fb9" stroke-width="1.3" stroke-linejoin="round" stroke-linecap="round" stroke-dasharray="3.2 2.6" stroke-linecap="butt"/>
<circle cx="382.6" cy="722.8" r="3.9" fill="#000"/>
<circle cx="372.4" cy="743.7" r="3.9" fill="#000"/>
<text x="420.3" y="709.7" font-size="13.5" fill="#2580cc" stroke="#2580cc" stroke-width="0.25" >O</text>
<text x="409.3" y="741.8" font-size="13.5" fill="#2580cc" stroke="#2580cc" stroke-width="0.25" >O</text>
<text x="387.3" y="773.8" font-size="13.5" fill="#2580cc" stroke="#2580cc" stroke-width="0.25" >O</text>
<text x="415.2" y="753.2" font-size="15" fill="#2580cc" stroke="#2580cc" stroke-width="0.25" >R</text>
<text x="277.9" y="808.4" font-size="15" fill="#2580cc" stroke="#2580cc" stroke-width="0.25" >R</text>
<text x="355.4" y="714.8" font-size="14.5" fill="#111" stroke="#111" stroke-width="0.25"><tspan>C</tspan><tspan font-size="11.0" dy="3.6">A</tspan><tspan dy="-3.6">&#8203;</tspan></text>
<text x="345.1" y="745.4" font-size="14.5" fill="#111" stroke="#111" stroke-width="0.25"><tspan>C</tspan><tspan font-size="11.0" dy="3.6">B</tspan><tspan dy="-3.6">&#8203;</tspan></text>
<polyline points="418.0,682.5 450.3,682.5 450.3,710.0" fill="none" stroke="#4a80c8" stroke-width="1.6" stroke-linejoin="round" stroke-linecap="round" stroke-linecap="butt" stroke-linejoin="miter"/>
<text transform="translate(464.85 700.77) scale(1.22 1)" x="-5.58" y="0" font-size="20.1" fill="#1a6fb9">&#8225;</text>
<polyline points="467.6,792.3 449.2,787.2 458.4,773.9 476.8,765.8 499.3,768.8 491.1,783.1" fill="none" stroke="#E4A82E" stroke-width="1.3" stroke-linejoin="round" stroke-linecap="round" />
<polyline points="449.2,787.2 467.6,792.3 491.1,783.1 510.5,779.0 532.0,786.2 545.3,797.4 564.7,797.4" fill="none" stroke="#E4A82E" stroke-width="3.0" stroke-linejoin="round" stroke-linecap="round" />
<polyline points="564.7,797.4 575.9,780.1 562.6,767.8 540.1,767.8 532.0,786.2" fill="none" stroke="#E4A82E" stroke-width="1.3" stroke-linejoin="round" stroke-linecap="round" />
<polyline points="499.3,768.8 506.5,766.5" fill="none" stroke="#E4A82E" stroke-width="1.3" stroke-linejoin="round" stroke-linecap="round" />
<polyline points="527.0,763.5 540.1,767.8" fill="none" stroke="#E4A82E" stroke-width="1.3" stroke-linejoin="round" stroke-linecap="round" />
<polyline points="460.4,776.5 475.8,769.5" fill="none" stroke="#E4A82E" stroke-width="1.3" stroke-linejoin="round" stroke-linecap="round" />
<polyline points="488.0,782.1 496.2,770.5" fill="none" stroke="#E4A82E" stroke-width="1.3" stroke-linejoin="round" stroke-linecap="round" />
<polyline points="456.3,785.2 466.6,788.5" fill="none" stroke="#E4A82E" stroke-width="1.3" stroke-linejoin="round" stroke-linecap="round" />
<polyline points="536.5,771.0 532.5,781.0" fill="none" stroke="#E4A82E" stroke-width="1.3" stroke-linejoin="round" stroke-linecap="round" />
<polyline points="559.5,772.5 569.5,781.5" fill="none" stroke="#E4A82E" stroke-width="1.3" stroke-linejoin="round" stroke-linecap="round" />
<polyline points="547.3,794.0 562.6,794.0" fill="none" stroke="#E4A82E" stroke-width="1.3" stroke-linejoin="round" stroke-linecap="round" />
<polyline points="562.6,767.8 568.8,758.6" fill="none" stroke="#E4A82E" stroke-width="1.3" stroke-linejoin="round" stroke-linecap="round" />
<polyline points="467.6,792.3 461.5,802.6" fill="none" stroke="#E4A82E" stroke-width="1.3" stroke-linejoin="round" stroke-linecap="round" />
<polyline points="498.7,723.4 502.2,711.2" fill="none" stroke="#E4A82E" stroke-width="1.3" stroke-linejoin="round" stroke-linecap="round" />
<polyline points="495.0,722.0 498.3,710.8" fill="none" stroke="#E4A82E" stroke-width="1.3" stroke-linejoin="round" stroke-linecap="round" />
<polyline points="498.7,723.4 520.9,729.9" fill="none" stroke="#E4A82E" stroke-width="1.3" stroke-linejoin="round" stroke-linecap="round" />
<polyline points="498.7,723.4 482.5,731.0" fill="none" stroke="#E4A82E" stroke-width="1.3" stroke-linejoin="round" stroke-linecap="round" />
<polyline points="477.7,741.5 481.2,748.8" fill="none" stroke="#E4A82E" stroke-width="1.3" stroke-linejoin="round" stroke-linecap="round" />
<polyline points="481.2,748.8 507.0,754.1" fill="none" stroke="#E4A82E" stroke-width="1.3" stroke-linejoin="round" stroke-linecap="round" />
<polyline points="481.2,748.8 469.6,757.6" fill="none" stroke="#E4A82E" stroke-width="1.3" stroke-linejoin="round" stroke-linecap="round" />
<polyline points="478.5,746.2 467.8,754.5" fill="none" stroke="#E4A82E" stroke-width="1.3" stroke-linejoin="round" stroke-linecap="round" />
<polyline points="520.9,729.9 507.0,754.1" fill="none" stroke="#E4A82E" stroke-width="1.3" stroke-linejoin="round" stroke-linecap="round" />
<polyline points="525.5,733.5 513.5,754.5" fill="none" stroke="#E4A82E" stroke-width="1.3" stroke-linejoin="round" stroke-linecap="round" />
<polyline points="521.5,736.6 524.0,760.5" fill="none" stroke="#E4A82E" stroke-width="1.3" stroke-linejoin="round" stroke-linecap="round" stroke-dasharray="3.2 2.6" stroke-linecap="butt"/>
<polyline points="508.5,761.5 510.5,777.5" fill="none" stroke="#E4A82E" stroke-width="1.3" stroke-linejoin="round" stroke-linecap="round" stroke-dasharray="3.2 2.6" stroke-linecap="butt"/>
<circle cx="507.0" cy="754.1" r="3.9" fill="#000"/>
<circle cx="520.9" cy="729.9" r="3.9" fill="#000"/>
<text x="497.2" y="707.7" font-size="13.5" fill="#E6AC3A" stroke="#E6AC3A" stroke-width="0.25" >O</text>
<text x="467.4" y="738.3" font-size="13.5" fill="#E6AC3A" stroke="#E6AC3A" stroke-width="0.25" >O</text>
<text x="457.0" y="766.8" font-size="13.5" fill="#E6AC3A" stroke="#E6AC3A" stroke-width="0.25" >O</text>
<text x="567.8" y="755.5" font-size="15" fill="#E6AC3A" stroke="#E6AC3A" stroke-width="0.25" >R</text>
<text x="451.3" y="815.8" font-size="15" fill="#E6AC3A" stroke="#E6AC3A" stroke-width="0.25" >R</text>
<text x="509.9" y="768.0" font-size="14.5" fill="#111" stroke="#111" stroke-width="0.25"><tspan>C</tspan><tspan font-size="11.0" dy="3.6">A</tspan><tspan dy="-3.6">&#8203;</tspan></text>
<text x="527.0" y="728.9" font-size="14.5" fill="#111" stroke="#111" stroke-width="0.25"><tspan>C</tspan><tspan font-size="11.0" dy="3.6">B</tspan><tspan dy="-3.6">&#8203;</tspan></text>
<polyline points="556.1,677.5 588.2,677.5 588.2,705.3" fill="none" stroke="#E4A82E" stroke-width="1.6" stroke-linejoin="round" stroke-linecap="round" stroke-linecap="butt" stroke-linejoin="miter"/>
<text transform="translate(601.50 696.57) scale(1.22 1)" x="-5.58" y="0" font-size="20.1" fill="#E4A82E">&#8225;</text>
</g>
</svg></body></html>
